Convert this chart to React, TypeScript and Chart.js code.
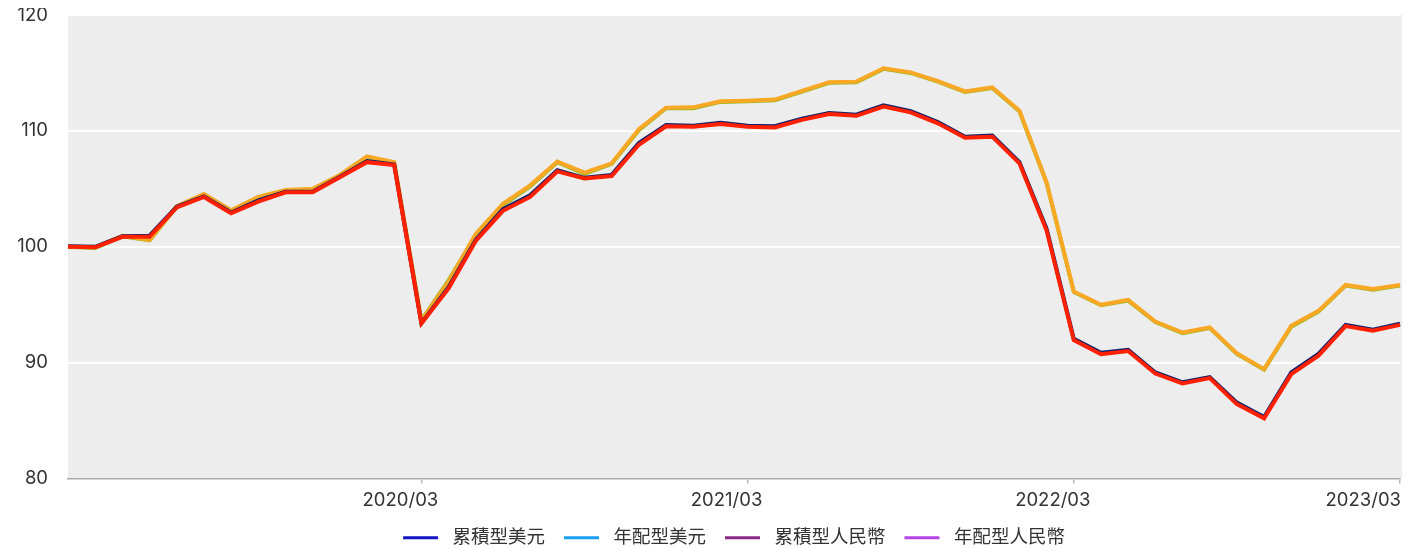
import React, { useEffect, useRef } from 'react';
import { Chart, registerables } from 'chart.js';

Chart.register(...registerables);

const months = [
  '2019/02', '2019/03', '2019/04', '2019/05', '2019/06', '2019/07', '2019/08', '2019/09', '2019/10', '2019/11', '2019/12',
  '2020/01', '2020/02', '2020/03', '2020/04', '2020/05', '2020/06', '2020/07', '2020/08', '2020/09', '2020/10', '2020/11', '2020/12',
  '2021/01', '2021/02', '2021/03', '2021/04', '2021/05', '2021/06', '2021/07', '2021/08', '2021/09', '2021/10', '2021/11', '2021/12',
  '2022/01', '2022/02', '2022/03', '2022/04', '2022/05', '2022/06', '2022/07', '2022/08', '2022/09', '2022/10', '2022/11', '2022/12',
  '2023/01', '2023/02', '2023/03',
];

const xTickLabels = ['2020/03', '2021/03', '2022/03', '2023/03'];

const seriesNames = ['累積型美元', '年配型美元', '累積型人民幣', '年配型人民幣'];

const accUsd = [100.05, 100.0, 100.9, 100.95, 103.45, 104.35, 102.95, 104.0, 104.75, 104.75, 106.05, 107.4, 107.1,
  93.4, 96.5, 100.6, 103.25, 104.45, 106.6, 105.95, 106.2, 108.95, 110.5, 110.45, 110.7, 110.45, 110.4, 111.05,
  111.55, 111.4, 112.2, 111.7, 110.75, 109.5, 109.6, 107.3, 101.55, 92.05, 90.85, 91.1, 89.15, 88.3, 88.75, 86.55,
  85.3, 89.15, 90.75, 93.25, 92.85, 93.35];

const distUsd = [100.0, 99.9, 100.9, 100.55, 103.45, 104.5, 103.1, 104.25, 104.85, 104.95, 106.15, 107.75, 107.2,
  93.65, 97.1, 101.0, 103.6, 105.2, 107.3, 106.3, 107.15, 110.05, 111.95, 111.95, 112.5, 112.55, 112.65, 113.4,
  114.15, 114.2, 115.35, 115.0, 114.25, 113.35, 113.7, 111.7, 105.5, 96.1, 94.95, 95.35, 93.5, 92.55, 92.98, 90.75,
  89.4, 93.1, 94.4, 96.65, 96.3, 96.65];

const accCny = [100.0, 99.95, 100.86, 100.86, 103.4, 104.3, 102.9, 103.9, 104.7, 104.7, 106.0, 107.3, 107.05,
  93.38, 96.4, 100.5, 103.1, 104.3, 106.5, 105.9, 106.1, 108.8, 110.4, 110.36, 110.6, 110.36, 110.3, 110.95,
  111.46, 111.3, 112.1, 111.6, 110.65, 109.4, 109.5, 107.2, 101.4, 91.94, 90.73, 91.0, 89.06, 88.2, 88.66, 86.42,
  85.2, 89.0, 90.6, 93.15, 92.75, 93.26];

const distCny = [100.0, 99.95, 100.95, 100.6, 103.5, 104.55, 103.15, 104.3, 104.9, 105.0, 106.2, 107.8, 107.3,
  93.6, 97.0, 101.1, 103.7, 105.3, 107.35, 106.4, 107.2, 110.15, 112.0, 112.03, 112.55, 112.6, 112.7, 113.45,
  114.2, 114.25, 115.4, 115.05, 114.3, 113.4, 113.75, 111.75, 105.55, 96.14, 94.99, 95.42, 93.55, 92.6, 93.03, 90.8,
  89.44, 93.18, 94.47, 96.7, 96.35, 96.7];

const lineColors = ['#13206b', '#97b820', '#ff2000', '#f8a825'];
const legendColors = ['#1414c4', '#1a9ff0', '#8a2c8a', '#b444e6'];
const drawOrder = [1, 3, 0, 2];

const FONT = 'Inter, "Noto Sans CJK TC", sans-serif';
const TEXT = '#333333';

const bgPlugin = {
  id: 'plotBg',
  beforeDraw(chart: any) {
    const { ctx, chartArea: a } = chart;
    ctx.save();
    ctx.fillStyle = '#ededed';
    ctx.fillRect(a.left, a.top, a.right - a.left + 2, a.bottom - a.top);
    ctx.restore();
  },
};

const xLabelPlugin = {
  id: 'xLabels',
  afterDraw(chart: any) {
    const { ctx, chartArea: a } = chart;
    const xs = chart.scales.x;
    ctx.save();
    ctx.font = `18.5px ${FONT}`;
    ctx.fillStyle = TEXT;
    ctx.textAlign = 'left';
    ctx.textBaseline = 'alphabetic';
    xs.ticks.forEach((t: any) => {
      const label = months[t.value];
      const px = xs.getPixelForValue(t.value);
      const w = ctx.measureText(label).width;
      let left = px - 21 - w / 2;
      if (left + w > a.right + 1) left = a.right + 1 - w;
      ctx.fillText(label, left, a.bottom + 27);
    });
    ctx.restore();
  },
};

export default function App() {
  const ref = useRef<HTMLCanvasElement>(null);

  useEffect(() => {
    if (!ref.current) return;
    const values = [accUsd, distUsd, accCny, distCny];
    const chart = new Chart(ref.current, {
      type: 'line',
      data: {
        labels: months,
        datasets: seriesNames.map((name, i) => ({
          label: name,
          data: values[i],
          borderColor: lineColors[i],
          backgroundColor: lineColors[i],
          borderWidth: 4,
          pointRadius: 0,
          pointHoverRadius: 0,
          tension: 0,
          fill: false,
          order: drawOrder[i],
        })),
      },
      options: {
        animation: false,
        responsive: true,
        maintainAspectRatio: false,
        layout: { padding: { top: 7, right: 8, left: 0, bottom: 0 } },
        plugins: {
          tooltip: { enabled: false },
          legend: {
            position: 'bottom',
            fullSize: false,
            labels: {
              boxWidth: 35,
              boxHeight: 3,
              padding: 19,
              color: TEXT,
              font: { family: FONT, size: 18.5 },
              generateLabels: (chart: any) =>
                chart.data.datasets.map((ds: any, i: number) => ({
                  text: ' ' + ds.label,
                  fillStyle: legendColors[i],
                  strokeStyle: legendColors[i],
                  lineWidth: 0,
                  hidden: false,
                  datasetIndex: i,
                  fontColor: TEXT,
                })),
            },
          },
        },
        scales: {
          x: {
            type: 'category',
            offset: false,
            grid: {
              display: true,
              drawOnChartArea: false,
              drawTicks: true,
              tickLength: 5,
              color: '#b5b5b5',
              lineWidth: 1.5,
            },
            border: { display: true, color: '#aaaaaa', width: 1.5 },
            ticks: { display: false, autoSkip: false },
            afterBuildTicks: (scale: any) => {
              scale.ticks = scale.ticks.filter((t: any) => xTickLabels.includes(months[t.value]));
            },
            afterFit: (scale: any) => {
              scale.height = 31;
              scale.paddingLeft = 0;
              scale.paddingRight = 0;
            },
          },
          y: {
            min: 80,
            max: 120,
            grid: { color: '#ffffff', lineWidth: 2, drawTicks: false },
            border: { display: false },
            ticks: {
              stepSize: 10,
              padding: 20,
              color: TEXT,
              font: { family: FONT, size: 18.5 },
            },
            afterFit: (scale: any) => {
              scale.width = 60;
              scale.paddingTop = 0;
              scale.paddingBottom = 0;
            },
          },
        },
      },
      plugins: [bgPlugin, xLabelPlugin],
    });
    return () => chart.destroy();
  }, []);

  return (
    <div style={{ position: 'relative', width: 1400, height: 549 }}>
      <canvas ref={ref} />
    </div>
  );
}
